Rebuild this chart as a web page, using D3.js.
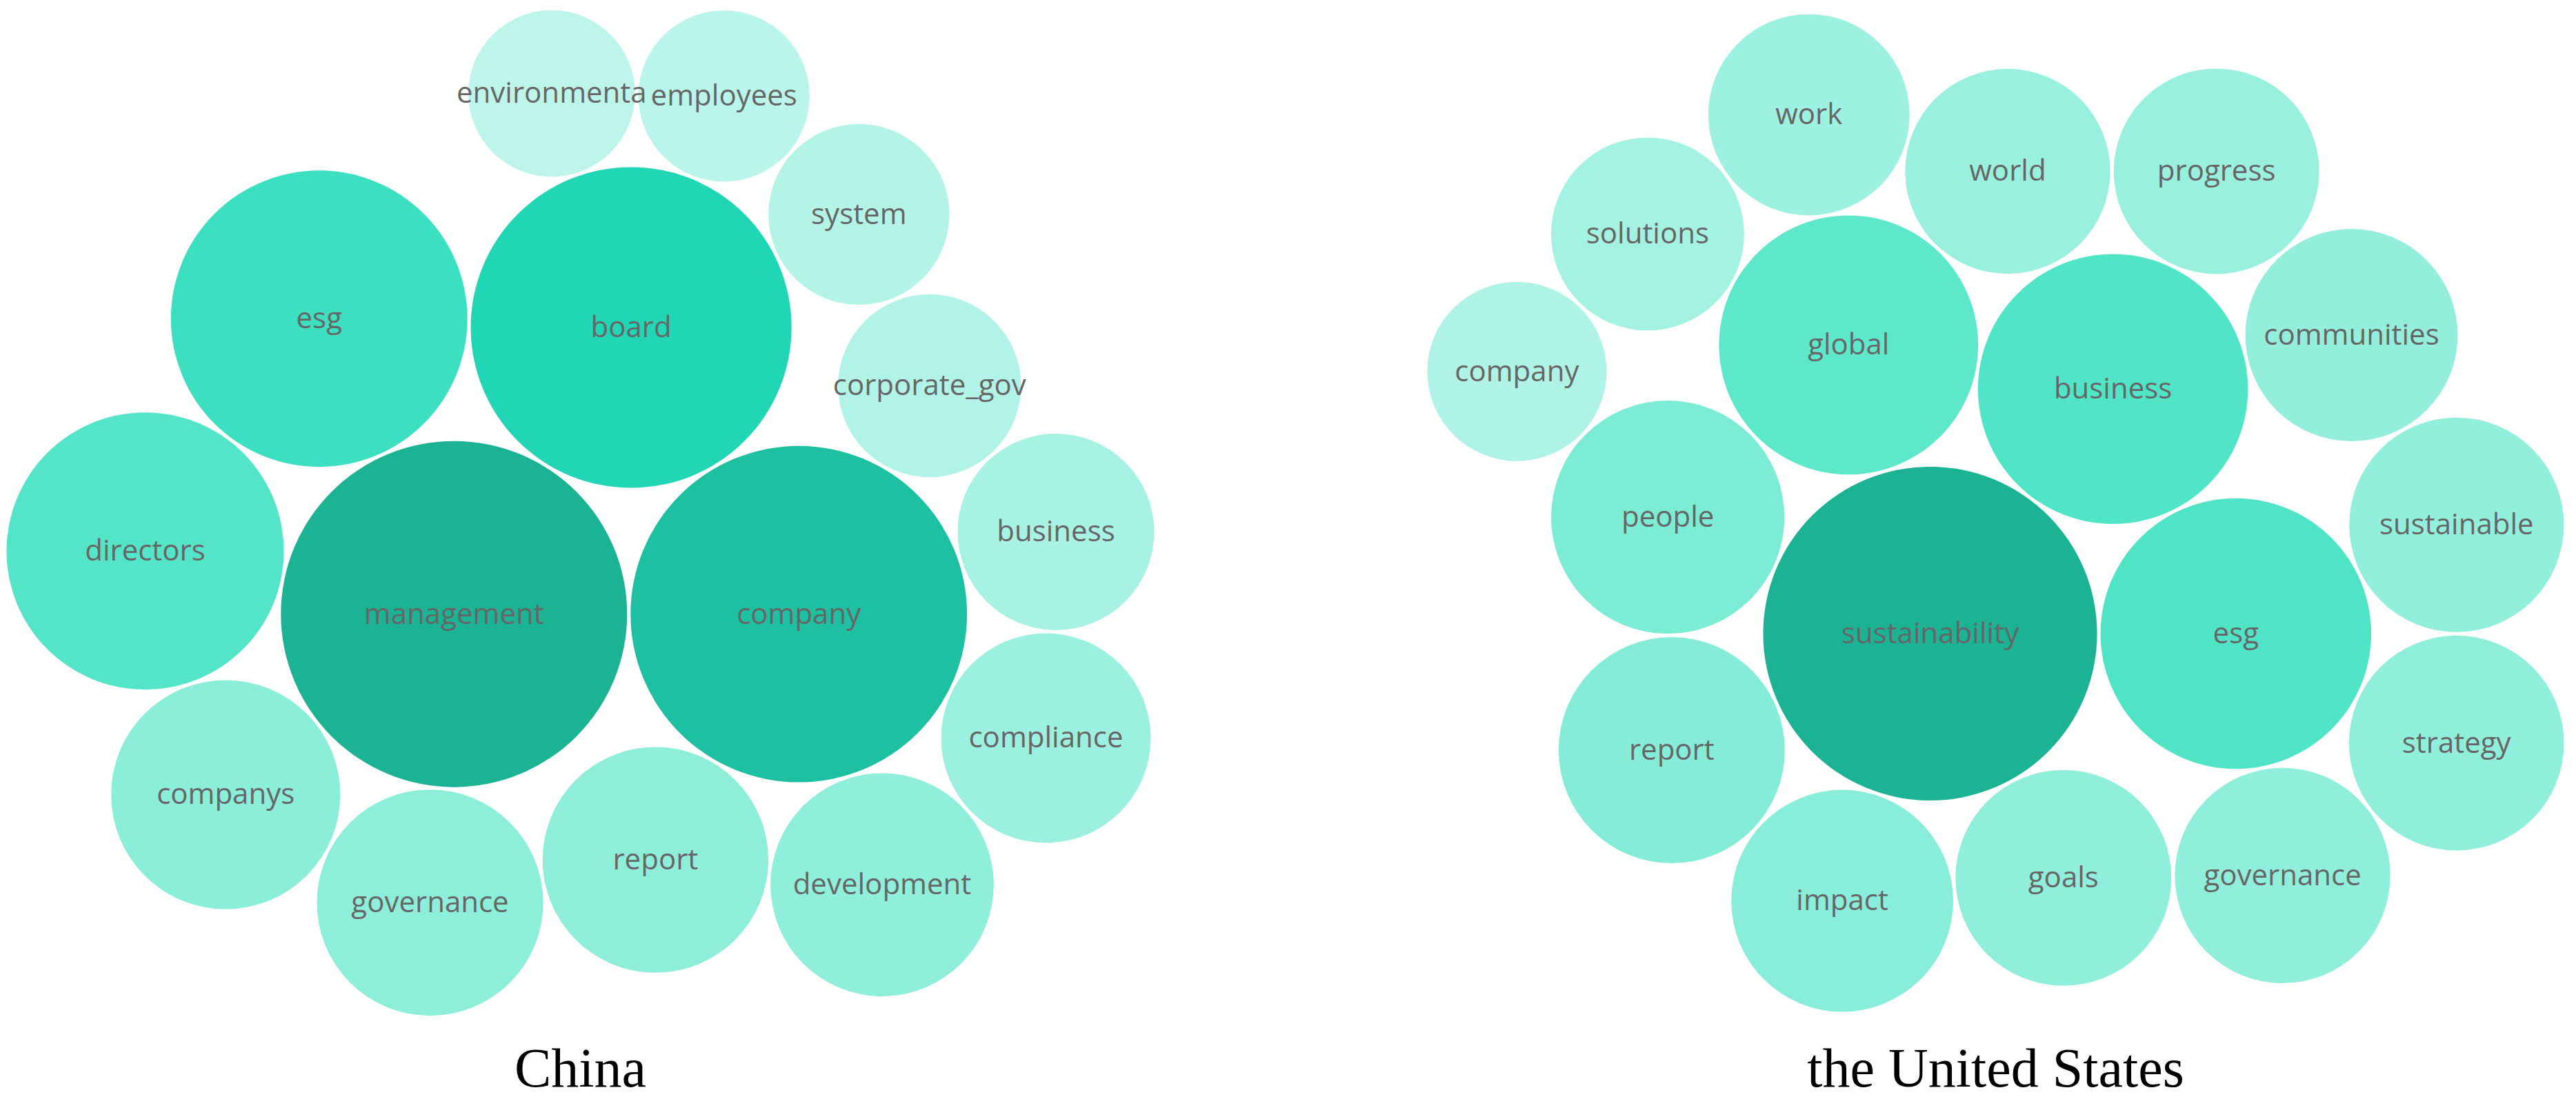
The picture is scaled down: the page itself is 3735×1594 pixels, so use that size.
<!DOCTYPE html>
<html>
<head>
<meta charset="utf-8">
<script src="https://cdnjs.cloudflare.com/ajax/libs/d3/7.8.5/d3.min.js"></script>
<style>
  body { margin: 0; background: #fff; }
</style>
</head>
<body>
<div class="chart"></div>
<script>
var width = 3735;
var height = 1594;

// word counts (China)
var chinaWords = ['management', 'company', 'board', 'esg', 'directors', 'companys', 'governance', 'report', 'development', 'compliance', 'business', 'corporate_gov', 'system', 'employees', 'environmenta'];
var chinaCounts = [630, 595, 541, 462, 404, 276, 269, 268, 262, 231, 203, 176, 172, 154, 146];

// word counts (United States)
var usWords = ['sustainability', 'esg', 'business', 'global', 'people', 'report', 'impact', 'goals', 'governance', 'strategy', 'sustainable', 'communities', 'progress', 'world', 'work', 'solutions', 'company'];
var usCounts = [586, 385, 383, 353, 286, 269, 259, 245, 244, 243, 242, 237, 222, 221, 213, 196, 169];

var titles = ['China', 'the United States'];

var svg = d3.select('.chart')
	.append('svg')
	.attr('width', width)
	.attr('height', height)
	.style('background', '#fff');

var radiusScale = d3.scaleSqrt().domain([0, 630]).range([0, 251]);

// share of the biggest word -> colour
var colorScale = d3.scaleLinear()
	.domain([0.23, 0.44, 0.6, 0.73, 0.86, 1])
	.range(['#bdf5eb', '#8aeed9', '#5ee8cc', '#3de0c0', '#20d6b5', '#1bb394'])
	.clamp(true);

var pad = 5;

// old style (d3 v3) sibling packing: bubbles spiral round the first one
function place(a, b, c){
	var db = a.pr + c.pr, dx = b.x - a.x, dy = b.y - a.y;
	if(db && (dx || dy)){
		var da = b.pr + c.pr, dc = dx * dx + dy * dy;
		da *= da;
		db *= db;
		var x = .5 + (db - da) / (2 * dc);
		var y = Math.sqrt(Math.max(0, 2 * da * (db + dc) - (db -= dc) * db - da * da)) / (2 * dc);
		c.x = a.x + x * dx + y * dy;
		c.y = a.y + x * dy - y * dx;
	}
	else{
		c.x = a.x + db;
		c.y = a.y;
	}
}
function intersects(a, b){
	var dx = b.x - a.x, dy = b.y - a.y, dr = a.pr + b.pr;
	return .999 * dr * dr > dx * dx + dy * dy;
}
function insert(a, b){
	var c = a.next;
	a.next = b; b.prev = a; b.next = c; c.prev = b;
}
function splice(a, b){
	a.next = b; b.prev = a;
}
function pack(nodes){
	var n = nodes.length, a, b, c, i, j, k;
	nodes.forEach(function(d){ d.next = d.prev = d; d.pr = d.r + pad / 2; });
	a = nodes[0]; a.x = -a.pr; a.y = 0;
	if(n < 2) return;
	b = nodes[1]; b.x = b.pr; b.y = 0;
	if(n < 3) return;
	c = nodes[2];
	place(a, b, c);
	insert(a, c);
	a.prev = c;
	insert(c, b);
	b = a.next;
	for(i = 3; i < n; i++){
		place(a, b, c = nodes[i]);
		var isect = 0, s1 = 1, s2 = 1;
		for(j = b.next; j !== b; j = j.next, s1++){
			if(intersects(j, c)){ isect = 1; break; }
		}
		if(isect){
			for(k = a.prev; k !== j.prev; k = k.prev, s2++){
				if(intersects(k, c)) break;
			}
			if(s1 < s2 || (s1 == s2 && b.pr < a.pr)) splice(a, b = j);
			else splice(a = k, b);
			i--;
		}
		else{
			insert(a, c);
			b = c;
		}
	}
}

function drawPanel(words, counts, title, centerX){
	var maxCount = d3.max(counts);
	var data = words.map(function(w, i){
		return { word: w, count: counts[i], r: radiusScale(counts[i]) };
	});
	data.sort(function(p, q){ return q.count - p.count });
	pack(data);

	var x0 = d3.min(data, function(d){ return d.x - d.pr });
	var x1 = d3.max(data, function(d){ return d.x + d.pr });
	var y0 = d3.min(data, function(d){ return d.y - d.pr });
	var y1 = d3.max(data, function(d){ return d.y + d.pr });
	var centerY = 744;

	var xScale = d3.scaleLinear()
		.domain([x0, x1])
		.range([centerX - (x1 - x0) / 2, centerX + (x1 - x0) / 2]);
	var yScale = d3.scaleLinear()
		.domain([y0, y1])
		.range([centerY - (y1 - y0) / 2, centerY + (y1 - y0) / 2]);

	var g = svg.append('g');

	g.selectAll('.bubble')
		.data(data)
		.enter().append('circle')
		.attr('class', 'bubble')
		.attr('cx', function(d){ return xScale(d.x) })
		.attr('cy', function(d){ return yScale(d.y) })
		.attr('r', function(d){ return d.r })
		.attr('fill', function(d){ return colorScale(d.count / maxCount) });

	g.selectAll('.word')
		.data(data)
		.enter().append('text')
		.attr('class', 'word')
		.attr('x', function(d){ return xScale(d.x) })
		.attr('y', function(d){ return yScale(d.y) })
		.attr('dy', '0.33em')
		.attr('text-anchor', 'middle')
		.attr('font-family', "'Open Sans', sans-serif")
		.attr('font-size', '42px')
		.attr('fill', '#666')
		.text(function(d){ return d.word });

	g.append('text')
		.attr('x', centerX)
		.attr('y', 1576)
		.attr('text-anchor', 'middle')
		.attr('font-family', "'Liberation Serif', 'Times New Roman', serif")
		.attr('font-size', '80px')
		.attr('fill', '#000')
		.text(title);
}

drawPanel(chinaWords, chinaCounts, titles[0], width / 2 - 1026);
drawPanel(usWords, usCounts, titles[1], width / 2 + 1026);
</script>
</body>
</html>
